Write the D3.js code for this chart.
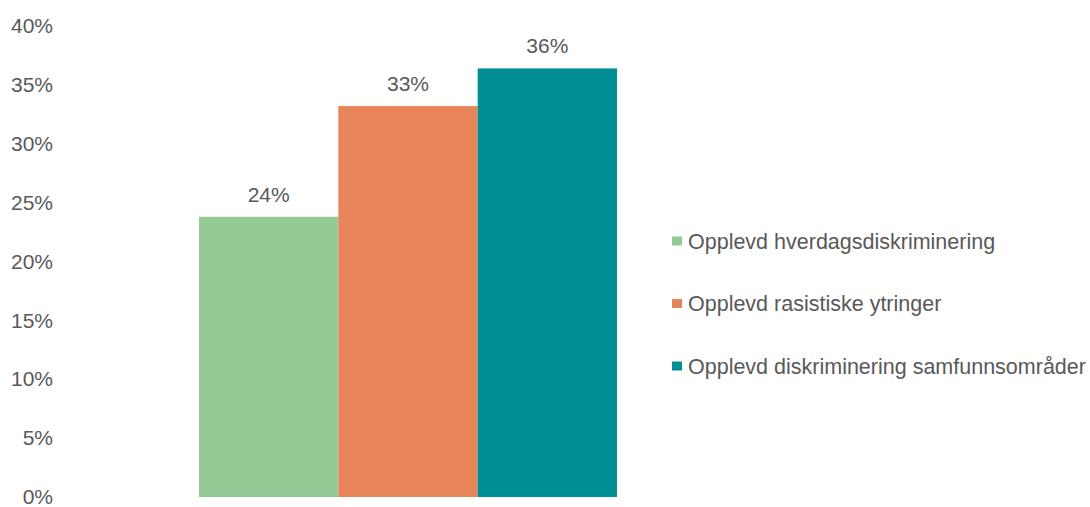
<!DOCTYPE html>
<html>
<head>
<meta charset="utf-8">
<script src="https://cdn.jsdelivr.net/npm/d3@7"></script>
<style>
  body { margin: 0; background: #fff; }
  text { font-family: "Liberation Sans", Arial, sans-serif; fill: #595959; }
</style>
</head>
<body>
<div id="chart"></div>
<script>
// Data
const seriesNames = ['Opplevd hverdagsdiskriminering', 'Opplevd rasistiske ytringer', 'Opplevd diskriminering samfunnsområder'];
const seriesValues = [23.8, 33.2, 36.4];
const seriesLabels = ['24%', '33%', '36%'];
const seriesColors = ['#95c995', '#e8845a', '#008f95'];
const yTicks = [0, 5, 10, 15, 20, 25, 30, 35, 40];

const width = 1090, height = 507;

const svg = d3.select('#chart')
    .append('svg')
    .attr('width', width)
    .attr('height', height);

// Scales
const x = d3.scaleBand().domain(seriesNames).range([199, 617]).padding(0);
const y = d3.scaleLinear().domain([0, 40]).range([497, 26]);

// Y axis (labels only)
const yAxis = svg.append('g')
    .attr('transform', 'translate(53,0)')
    .call(d3.axisLeft(y).tickValues(yTicks).tickFormat(d => d + '%').tickSize(0).tickPadding(0));
yAxis.select('.domain').remove();
yAxis.selectAll('text')
    .style('font-size', '21px')
    .attr('fill', '#595959')
    .style('font-family', '"Liberation Sans", Arial, sans-serif');

// Bars
svg.selectAll('.bar')
    .data(seriesNames)
    .enter()
    .append('rect')
    .attr('class', 'bar')
    .attr('x', d => x(d))
    .attr('y', (d, i) => y(seriesValues[i]))
    .attr('width', x.bandwidth())
    .attr('height', (d, i) => y(0) - y(seriesValues[i]))
    .attr('fill', (d, i) => seriesColors[i]);

// Value labels
svg.selectAll('.value-label')
    .data(seriesNames)
    .enter()
    .append('text')
    .attr('class', 'value-label')
    .attr('x', d => x(d) + x.bandwidth() / 2)
    .attr('y', (d, i) => y(seriesValues[i]) - 15)
    .attr('text-anchor', 'middle')
    .style('font-size', '21px')
    .text((d, i) => seriesLabels[i]);

// Legend
const legend = svg.append('g').attr('transform', 'translate(672,241)');
const items = legend.selectAll('.legend-item')
    .data(seriesNames)
    .enter()
    .append('g')
    .attr('class', 'legend-item')
    .attr('transform', (d, i) => `translate(0,${i * 62.5})`);

items.append('rect')
    .attr('x', 0)
    .attr('y', -4.5)
    .attr('width', 10)
    .attr('height', 9)
    .attr('fill', (d, i) => seriesColors[i]);

items.append('text')
    .attr('x', 16)
    .attr('y', 0)
    .attr('dy', '0.35em')
    .style('font-size', '21.5px')
    .text(d => d);
</script>
</body>
</html>
